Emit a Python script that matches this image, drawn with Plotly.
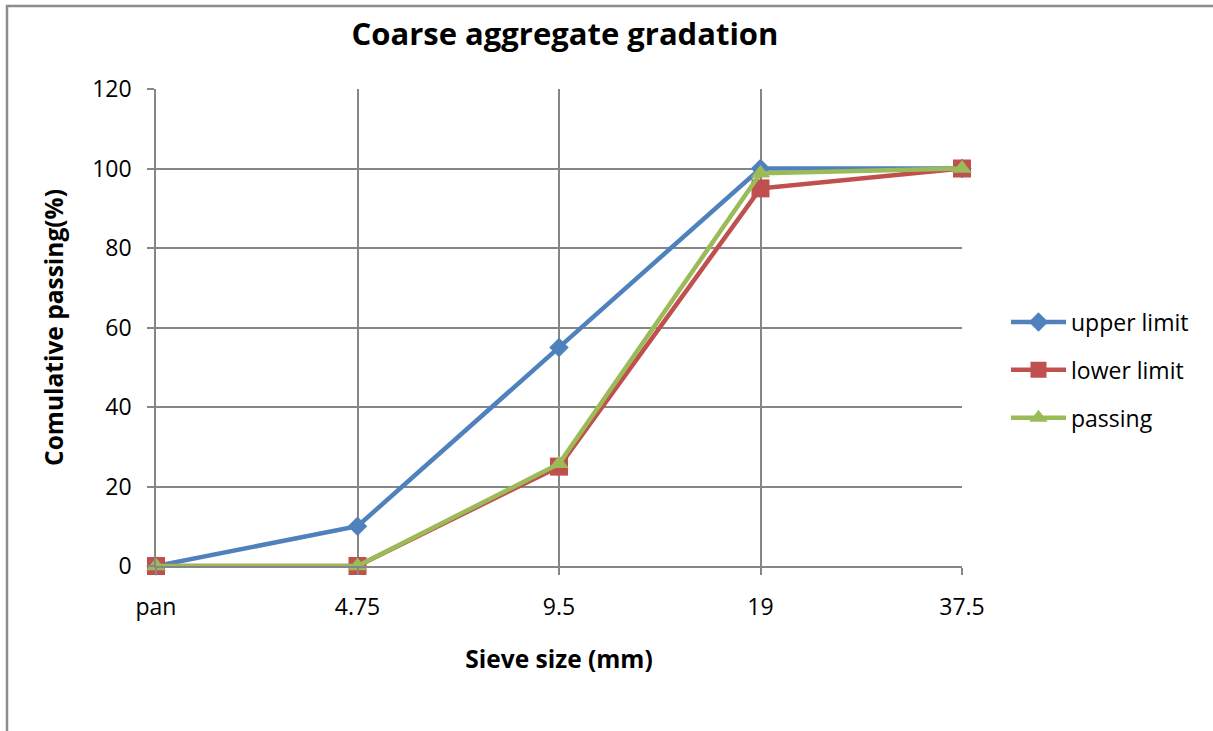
import plotly.graph_objects as go

categories = ["pan", "4.75", "9.5", "19", "37.5"]
upper_limit = [0, 10, 55, 100, 100]
lower_limit = [0, 0, 25, 95, 100]
passing = [0, 0, 25.7, 98.8, 100]

BLUE = "#4F81BD"
RED = "#C0504D"
GREEN = "#9BBB59"
GRID = "#868686"
FONT = "'Open Sans', sans-serif"

fig = go.Figure()
fig.add_trace(go.Scatter(x=categories, y=upper_limit, name="upper limit", mode="lines+markers",
                         line=dict(color=BLUE, width=4.5), legendgroup="a",
                         marker=dict(symbol="diamond", size=15, color=BLUE), cliponaxis=False))
fig.add_trace(go.Scatter(x=categories, y=lower_limit, name="lower limit", mode="lines+markers",
                         line=dict(color=RED, width=4.5), legendgroup="b",
                         marker=dict(symbol="square", size=18, color=RED), cliponaxis=False))
fig.add_trace(go.Scatter(x=categories, y=passing, name="passing", mode="lines+markers",
                         line=dict(color=GREEN, width=4.5), legendgroup="c",
                         marker=dict(symbol="triangle-up", size=17, color=GREEN), cliponaxis=False))

fig.update_layout(
    width=1213, height=731,
    margin=dict(l=156, r=251, t=89, b=165),
    paper_bgcolor="white", plot_bgcolor="white",
    font=dict(family=FONT, size=23, color="black"),
    title=dict(text="<b>Coarse aggregate gradation</b>", x=565/1213, xanchor="center",
               y=1 - 34/731, yanchor="middle", font=dict(size=31, family=FONT)),
    showlegend=True,
    legend=dict(x=(1006 - 156) / 806, xanchor="left", y=(566 - 370) / 477, yanchor="middle",
                font=dict(size=23), traceorder="grouped", tracegroupgap=15,
                itemwidth=55, bgcolor="rgba(0,0,0,0)"),
    xaxis=dict(type="category", range=[0, 4], showgrid=True, gridcolor=GRID, gridwidth=1.5,
               showline=True, linecolor=GRID, linewidth=1.5, ticks="outside", ticklen=7,
               tickcolor=GRID, tickwidth=1.5, ticklabelstandoff=13,
               title=dict(text="<b>Sieve size (mm)</b>", font=dict(size=24.5), standoff=30),
               zeroline=False),
    yaxis=dict(range=[0, 120], dtick=20, showgrid=True, gridcolor=GRID, gridwidth=1.5,
               showline=True, linecolor=GRID, linewidth=1.5, ticks="outside", ticklen=7,
               tickcolor=GRID, tickwidth=1.5, zeroline=False, ticklabelstandoff=11,
               title=dict(text="<b>Comulative passing(%)</b>", font=dict(size=24.5), standoff=22)),
)

# outer chart border (partly cut by the image edge)
fig.add_shape(type="rect", xref="paper", yref="paper",
              x0=(7 - 156) / 806, x1=(1220 - 156) / 806,
              y0=(566 - 740) / 477, y1=(566 - 6) / 477,
              line=dict(color="#8C8C8C", width=2.5), fillcolor="rgba(0,0,0,0)", layer="below")

fig.write_html("out.html")
